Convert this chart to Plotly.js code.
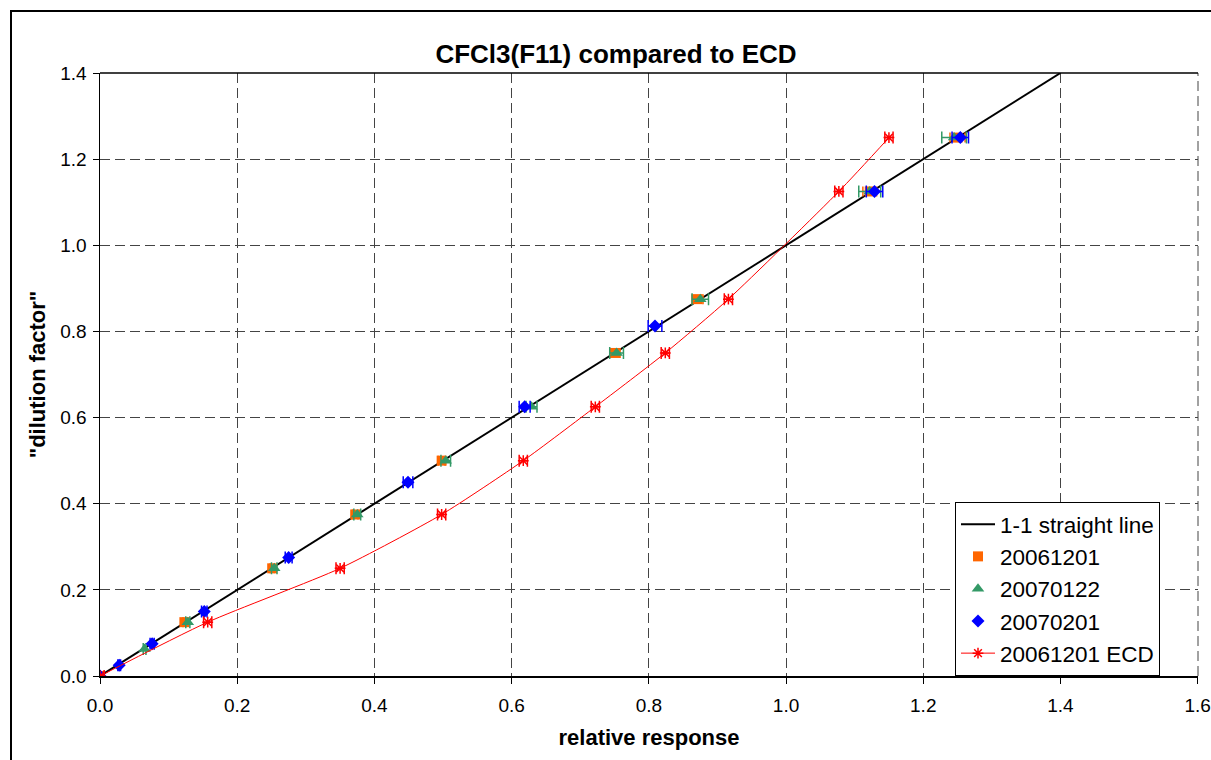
<!DOCTYPE html>
<html>
<head>
<meta charset="utf-8">
<script src="https://cdn.plot.ly/plotly-3.0.1.min.js"></script>
<style>
  html, body { margin: 0; padding: 0; background: #fff; overflow: hidden; }
  #chart { width: 1211px; height: 760px; }
  #frame { position: absolute; left: 10px; top: 10px; width: 1400px; height: 1000px;
           border: 2px solid #000; pointer-events: none; }
</style>
</head>
<body>
<div id="chart"></div>
<div id="frame"></div>
<script>
// ---- data ----
const lineX = [0, 1.4];
const lineY = [0, 1.4];

const s1201X = [0, 0.123, 0.251, 0.372, 0.498, 0.751, 0.871, 1.122, 1.250];
const s1201Y = [0, 0.125, 0.25, 0.375, 0.5, 0.75, 0.875, 1.125, 1.25];
const s1201E = [0, 0.002, 0.003, 0.004, 0.005, 0.007, 0.008, 0.010, 0.011];

const s0122X = [0, 0.065, 0.128, 0.254, 0.375, 0.504, 0.629, 0.753, 0.875, 1.122, 1.245];
const s0122Y = [0, 0.0625, 0.125, 0.25, 0.375, 0.5, 0.625, 0.75, 0.875, 1.125, 1.25];
const s0122E = [0, 0.002, 0.003, 0.004, 0.005, 0.007, 0.008, 0.010, 0.012, 0.016, 0.018];

const s0201X = [0, 0.028, 0.076, 0.152, 0.275, 0.449, 0.619, 0.809, 1.129, 1.254];
const s0201Y = [0, 0.025, 0.075, 0.15, 0.275, 0.45, 0.625, 0.8125, 1.125, 1.25];
const s0201E = [0, 0.002, 0.003, 0.004, 0.005, 0.007, 0.008, 0.010, 0.012, 0.012];

const ecdX = [0, 0.157, 0.350, 0.498, 0.617, 0.722, 0.824, 0.916, 1.077, 1.150];
const ecdY = [0, 0.125, 0.25, 0.375, 0.5, 0.625, 0.75, 0.875, 1.125, 1.25];
const ecdE = [0.006, 0.006, 0.006, 0.006, 0.006, 0.006, 0.006, 0.006, 0.006, 0.006];

const names = ['1-1 straight line', '20061201', '20070122', '20070201', '20061201 ECD'];
const xTicks = [0, 0.2, 0.4, 0.6, 0.8, 1.0, 1.2, 1.4, 1.6];
const yTicks = [0, 0.2, 0.4, 0.6, 0.8, 1.0, 1.2, 1.4];

const FONT = 'Liberation Sans, Arial, Helvetica, sans-serif';

const traces = [
  { x: lineX, y: lineY, name: names[0], mode: 'lines', type: 'scatter',
    line: { color: '#000000', width: 2 } },
  { x: s1201X, y: s1201Y, name: names[1], mode: 'markers', type: 'scatter',
    marker: { symbol: 'square', color: '#FF6600', size: 10 },
    error_x: { type: 'data', array: s1201E, visible: true, color: '#FF6600', thickness: 1.5, width: 5 } },
  { x: s0122X, y: s0122Y, name: names[2], mode: 'markers', type: 'scatter',
    marker: { symbol: 'triangle-up', color: '#339966', size: 11 },
    error_x: { type: 'data', array: s0122E, visible: true, color: '#339966', thickness: 1.5, width: 6 } },
  { x: s0201X, y: s0201Y, name: names[3], mode: 'markers', type: 'scatter',
    marker: { symbol: 'diamond', color: '#0000FF', size: 10 },
    error_x: { type: 'data', array: s0201E, visible: true, color: '#0000FF', thickness: 1.5, width: 6 } },
  { x: ecdX, y: ecdY, name: names[4], mode: 'lines+markers', type: 'scatter',
    line: { color: '#FF0000', width: 1, shape: 'spline', smoothing: 0.6 },
    marker: { symbol: 'asterisk-open', color: '#FF0000', size: 9, line: { color: '#FF0000', width: 1.5 } },
    error_x: { type: 'data', array: ecdE, visible: true, color: '#FF0000', thickness: 1.5, width: 6 } }
];

const axisCommon = {
  showline: true, linecolor: '#000', linewidth: 1.5,
  ticks: 'outside', ticklen: 6, tickcolor: '#000', tickwidth: 1,
  showgrid: true, gridcolor: '#444', gridwidth: 1, griddash: '10px,5px',
  zeroline: false, tickformat: '.1f',
  tickfont: { family: FONT, size: 19, color: '#000' },
  fixedrange: true
};

const layout = {
  width: 1211, height: 760,
  margin: { l: 100, r: 13, t: 73, b: 84 },
  paper_bgcolor: '#fff', plot_bgcolor: '#fff',
  font: { family: FONT, color: '#000' },
  title: { text: 'CFCl3(F11) compared to ECD', x: 616 / 1211, xanchor: 'center',
           y: 1 - 54 / 760, yanchor: 'middle',
           font: { family: FONT, size: 26, weight: 'bold', color: '#000' } },
  xaxis: Object.assign({}, axisCommon, {
    range: [0, 1.6005], tickvals: xTicks, ticklabelstandoff: 6,
    title: { text: 'relative response', standoff: 14,
             font: { family: FONT, size: 22, weight: 'bold', color: '#000' } }
  }),
  yaxis: Object.assign({}, axisCommon, {
    range: [0, 1.4], tickvals: yTicks, ticklabelstandoff: 2,
    title: { text: '"dilution factor"', standoff: 8,
             font: { family: FONT, size: 22, weight: 'bold', color: '#000' } }
  }),
  showlegend: true,
  legend: { x: (955 - 100) / 1098, y: 0, xanchor: 'left', yanchor: 'bottom',
            bgcolor: '#fff', bordercolor: '#000', borderwidth: 1, itemwidth: 34,
            font: { family: FONT, size: 22.5, color: '#000' } },
  shapes: [
    { type: 'line', xref: 'paper', yref: 'paper', x0: 0, x1: 1, y0: 1, y1: 1,
      line: { color: '#000', width: 1.5 } },
    { type: 'line', xref: 'paper', yref: 'paper', x0: 1, x1: 1, y0: 0, y1: 1, layer: 'below',
      line: { color: '#444', width: 1, dash: '10px,5px' } }
  ]
};

Plotly.newPlot('chart', traces, layout, { displayModeBar: false, staticPlot: true });
</script>
</body>
</html>
